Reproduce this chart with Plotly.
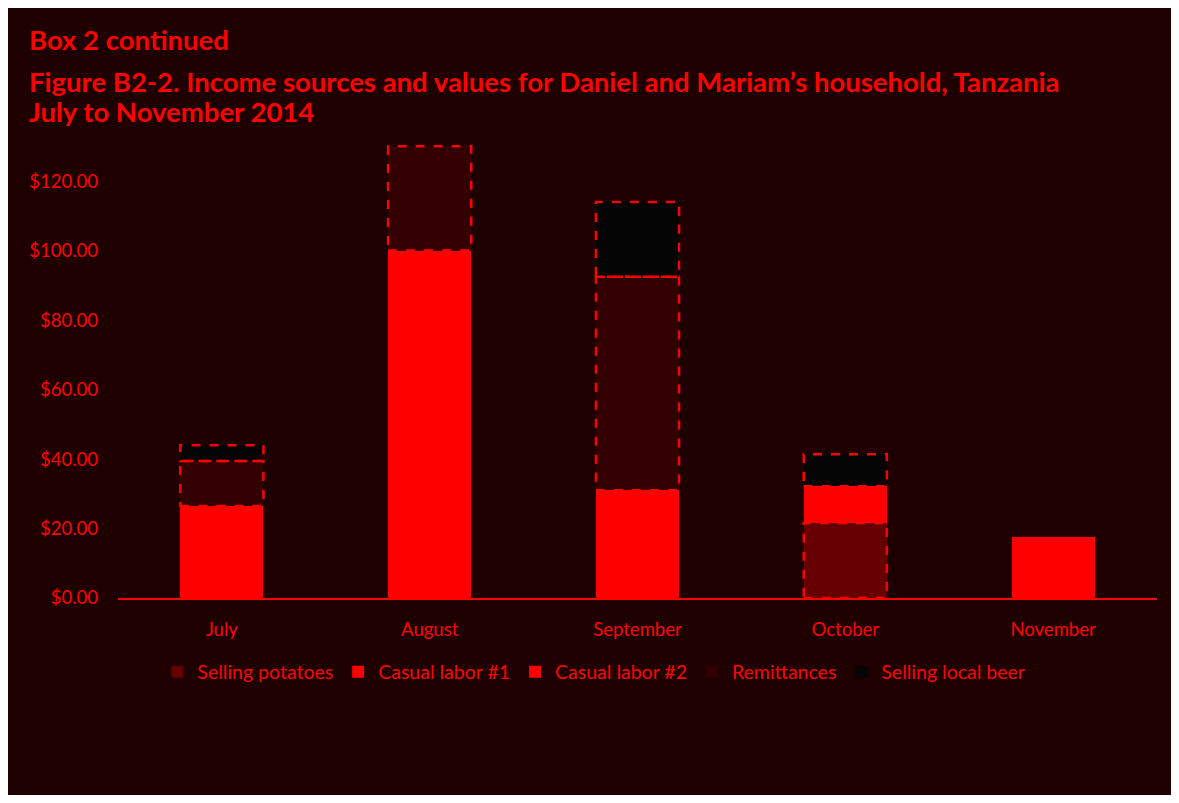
import plotly.graph_objects as go

months = ["July", "August", "September", "October", "November"]
selling_potatoes = [0, 0, 0, 21.6, 0]
casual_labor_1 = [26.5, 100, 31, 0, 17.6]
casual_labor_2 = [0, 0, 0, 10.6, 0]
remittances = [12.9, 30, 61.5, 0, 0]
selling_local_beer = [4.6, 0, 21.5, 9.2, 0]
y_ticks = [0, 20, 40, 60, 80, 100, 120]

BG = "#1e0000"
RED = "#ff0000"

series = [
    ("Selling potatoes", selling_potatoes, "#660000", True),
    ("Casual labor #1", casual_labor_1, RED, False),
    ("Casual labor #2", casual_labor_2, RED, False),
    ("Remittances", remittances, "#330000", True),
    ("Selling local beer", selling_local_beer, "#050505", True),
]

fig = go.Figure()
for name, vals, col, dashed in series:
    fig.add_trace(go.Bar(
        name=name, x=months, y=vals,
        marker=dict(color=col, line=dict(width=0)),
    ))

# dashed outlines for segments, computed from the stacked data
bar_half = 0.2
base = [0.0] * len(months)
for name, vals, col, dashed in series:
    for i, v in enumerate(vals):
        if v > 0 and dashed:
            fig.add_shape(type="rect", xref="x", yref="y",
                          x0=i - bar_half, x1=i + bar_half,
                          y0=base[i], y1=base[i] + v,
                          line=dict(color=RED, width=2.5, dash="dash"),
                          fillcolor="rgba(0,0,0,0)", layer="above")
        base[i] += v

tick_font = dict(family="Lato, Carlito, sans-serif", size=18.5, color=RED)
title_font = dict(family="Lato, sans-serif", size=27.5, color=RED)

fig.update_layout(
    barmode="stack",
    bargap=0.6,
    width=1163, height=787,
    margin=dict(l=110, r=14, t=121, b=197),
    paper_bgcolor=BG, plot_bgcolor=BG,
    showlegend=True,
    legend=dict(orientation="h", x=0.458, xanchor="center", y=-0.158, yanchor="middle",
                font=dict(family="Lato, sans-serif", size=19.5, color=RED),
                bgcolor="rgba(0,0,0,0)", traceorder="normal",
                itemwidth=30),
    xaxis=dict(showline=True, linecolor=RED, linewidth=2, showgrid=False,
               ticks="", tickfont=tick_font, range=[-0.5, 4.5],
               ticklabelstandoff=14),
    yaxis=dict(range=[0, 135], tickvals=y_ticks,
               ticktext=["$%.2f" % v for v in y_ticks],
               showgrid=False, zeroline=False, showline=False,
               tickfont=tick_font, ticks="", ticklabelstandoff=19),
    annotations=[
        dict(text="<b>Box 2 continued</b>", xref="paper", yref="paper",
             x=-0.0872, y=1.1898, xanchor="left", yanchor="middle", showarrow=False,
             font=title_font),
        dict(text="<b>Figure B2-2. Income sources and values for Daniel and Mariam\u2019s household, Tanzania</b>",
             xref="paper", yref="paper", x=-0.0872, y=1.1012, xanchor="left", yanchor="middle",
             showarrow=False, font=title_font),
        dict(text="<b>July to November 2014</b>",
             xref="paper", yref="paper", x=-0.0872, y=1.0374, xanchor="left", yanchor="middle",
             showarrow=False, font=title_font),
    ],
)

fig.write_html("out.html")
